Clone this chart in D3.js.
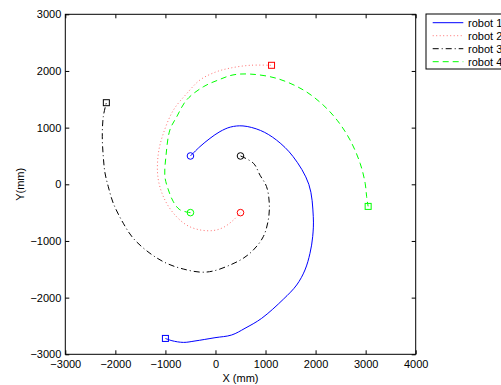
<!DOCTYPE html>
<html>
<head>
<meta charset="utf-8">
<script src="https://cdn.jsdelivr.net/npm/d3@7"></script>
<style>
  body { margin: 0; background: #fff; }
  text { font-family: "Liberation Sans", Arial, sans-serif; }
</style>
</head>
<body>
<div id="chart"></div>
<script>
  // robot paths (mm), first point = start (circle), last point = end (square)
  var robot1 = [[-500,500],[-310,665],[-110,810],[90,930],[300,1010],[550,1030],[900,950],[1220,780],
    [1550,490],[1865,0],[1954,-572],[1942,-925],[1888,-1218],[1788,-1512],[1622,-1777],
    [1355,-2029],[923,-2365],[590,-2541],[324,-2659],[-10,-2707],[-409,-2765],[-640,-2790],[-870,-2760],[-1000,-2720]];
  var robot2 = [[500,-500],[360,-630],[160,-760],[-40,-815],[-310,-805],[-575,-720],[-840,-510],[-1040,-220],
    [-1150,130],[-1140,550],[-1040,900],[-840,1310],[-575,1600],[-310,1840],[0,1980],[290,2050],[690,2100],[1120,2100]];
  var robot3 = [[500,500],[760,370],[890,160],[1020,-40],[1075,-335],[1055,-630],[955,-925],[756,-1160],
    [556,-1305],[290,-1425],[-44,-1530],[-300,-1550],[-643,-1495],[-974,-1395],[-1308,-1218],[-1642,-953],
    [-1841,-688],[-2041,-335],[-2141,-42],[-2207,200],[-2241,487],[-2261,840],[-2241,1193],[-2180,1440]];
  var robot4 = [[-500,-500],[-710,-450],[-840,-310],[-940,-100],[-1010,135],[-990,490],[-910,960],[-775,1190],
    [-575,1490],[-245,1720],[55,1840],[350,1930],[690,1945],[1220,1870],[1755,1665],[2150,1400],[2440,1120],
    [2690,780],[2890,370],[2990,20],[3020,-220],[3050,-390]];

  var names = ["robot 1", "robot 2", "robot 3", "robot 4"];
  var xTicks = [-3000, -2000, -1000, 0, 1000, 2000, 3000, 4000];
  var yTicks = [-3000, -2000, -1000, 0, 1000, 2000, 3000];

  var styles = [
    { color: "#0000ff", dash: null, marker: "#0000ff" },
    { color: "#ff7070", dash: "1,2.5", marker: "#ff0000" },
    { color: "#000000", dash: "6,3,1,3", marker: "#000000" },
    { color: "#00ff00", dash: "6,4", marker: "#00ff00" }
  ];
  var paths = [robot1, robot2, robot3, robot4];

  var svg = d3.select("#chart").append("svg")
    .attr("width", 501)
    .attr("height", 385);

  var pLeft = 65.3, pRight = 415.7, pTop = 14.3, pBottom = 354.3;

  var x = d3.scaleLinear().domain([-3000, 4000]).range([pLeft, pRight]);
  var y = d3.scaleLinear().domain([-3000, 3000]).range([pBottom, pTop]);

  // axes with inward ticks on all four sides
  function styleAxis(g) {
    g.select(".domain").remove();
    g.selectAll("line").attr("stroke", "#000");
    g.selectAll("text").attr("font-size", "11px").attr("fill", "#000");
  }
  svg.append("g").attr("transform", "translate(0," + pBottom + ")")
    .call(d3.axisBottom(x).tickValues(xTicks).tickSizeInner(-4).tickSizeOuter(0).tickPadding(6).tickFormat(d3.format("d")))
    .call(styleAxis);
  svg.append("g").attr("transform", "translate(0," + pTop + ")")
    .call(d3.axisTop(x).tickValues(xTicks).tickSizeInner(-4).tickSizeOuter(0).tickFormat(""))
    .call(styleAxis);
  svg.append("g").attr("transform", "translate(" + pLeft + ",0)")
    .call(d3.axisLeft(y).tickValues(yTicks).tickSizeInner(-4).tickSizeOuter(0).tickPadding(4).tickFormat(d3.format("d")))
    .call(styleAxis);
  svg.append("g").attr("transform", "translate(" + pRight + ",0)")
    .call(d3.axisRight(y).tickValues(yTicks).tickSizeInner(-4).tickSizeOuter(0).tickFormat(""))
    .call(styleAxis);

  svg.append("rect")
    .attr("x", pLeft).attr("y", pTop)
    .attr("width", pRight - pLeft).attr("height", pBottom - pTop)
    .attr("fill", "none").attr("stroke", "#000").attr("stroke-width", 1);

  // axis labels
  svg.append("text")
    .attr("x", (pLeft + pRight) / 2).attr("y", 382)
    .attr("text-anchor", "middle").attr("font-size", "11px")
    .text("X (mm)");
  svg.append("text")
    .attr("transform", "translate(24," + ((pTop + pBottom) / 2) + ") rotate(-90)")
    .attr("text-anchor", "middle").attr("font-size", "11px")
    .text("Y(mm)");

  var line = d3.line()
    .x(d => x(d[0]))
    .y(d => y(d[1]))
    .curve(d3.curveCatmullRom);

  paths.forEach(function(p, i) {
    var s = styles[i];
    svg.append("path")
      .attr("d", line(p))
      .attr("fill", "none")
      .attr("stroke", s.color)
      .attr("stroke-width", 1)
      .attr("stroke-dasharray", s.dash);

    // start marker: circle
    svg.append("circle")
      .attr("cx", x(p[0][0])).attr("cy", y(p[0][1]))
      .attr("r", 3.3)
      .attr("fill", "none").attr("stroke", s.marker);

    // end marker: square
    var e = p[p.length - 1];
    svg.append("rect")
      .attr("x", x(e[0]) - 3).attr("y", y(e[1]) - 3)
      .attr("width", 6).attr("height", 6)
      .attr("fill", "none").attr("stroke", s.marker);
  });

  // legend
  var legend = svg.append("g");
  legend.append("rect")
    .attr("x", 426).attr("y", 14)
    .attr("width", 90).attr("height", 55)
    .attr("fill", "#fff").attr("stroke", "#000");

  names.forEach(function(n, i) {
    var s = styles[i];
    var ly = 22.7 + i * 13;
    legend.append("line")
      .attr("x1", 432.7).attr("x2", 463.3)
      .attr("y1", ly).attr("y2", ly)
      .attr("stroke", s.color)
      .attr("stroke-dasharray", s.dash);
    legend.append("text")
      .attr("x", 468).attr("y", ly + 4)
      .attr("font-size", "11px")
      .text(n);
  });
</script>
</body>
</html>
